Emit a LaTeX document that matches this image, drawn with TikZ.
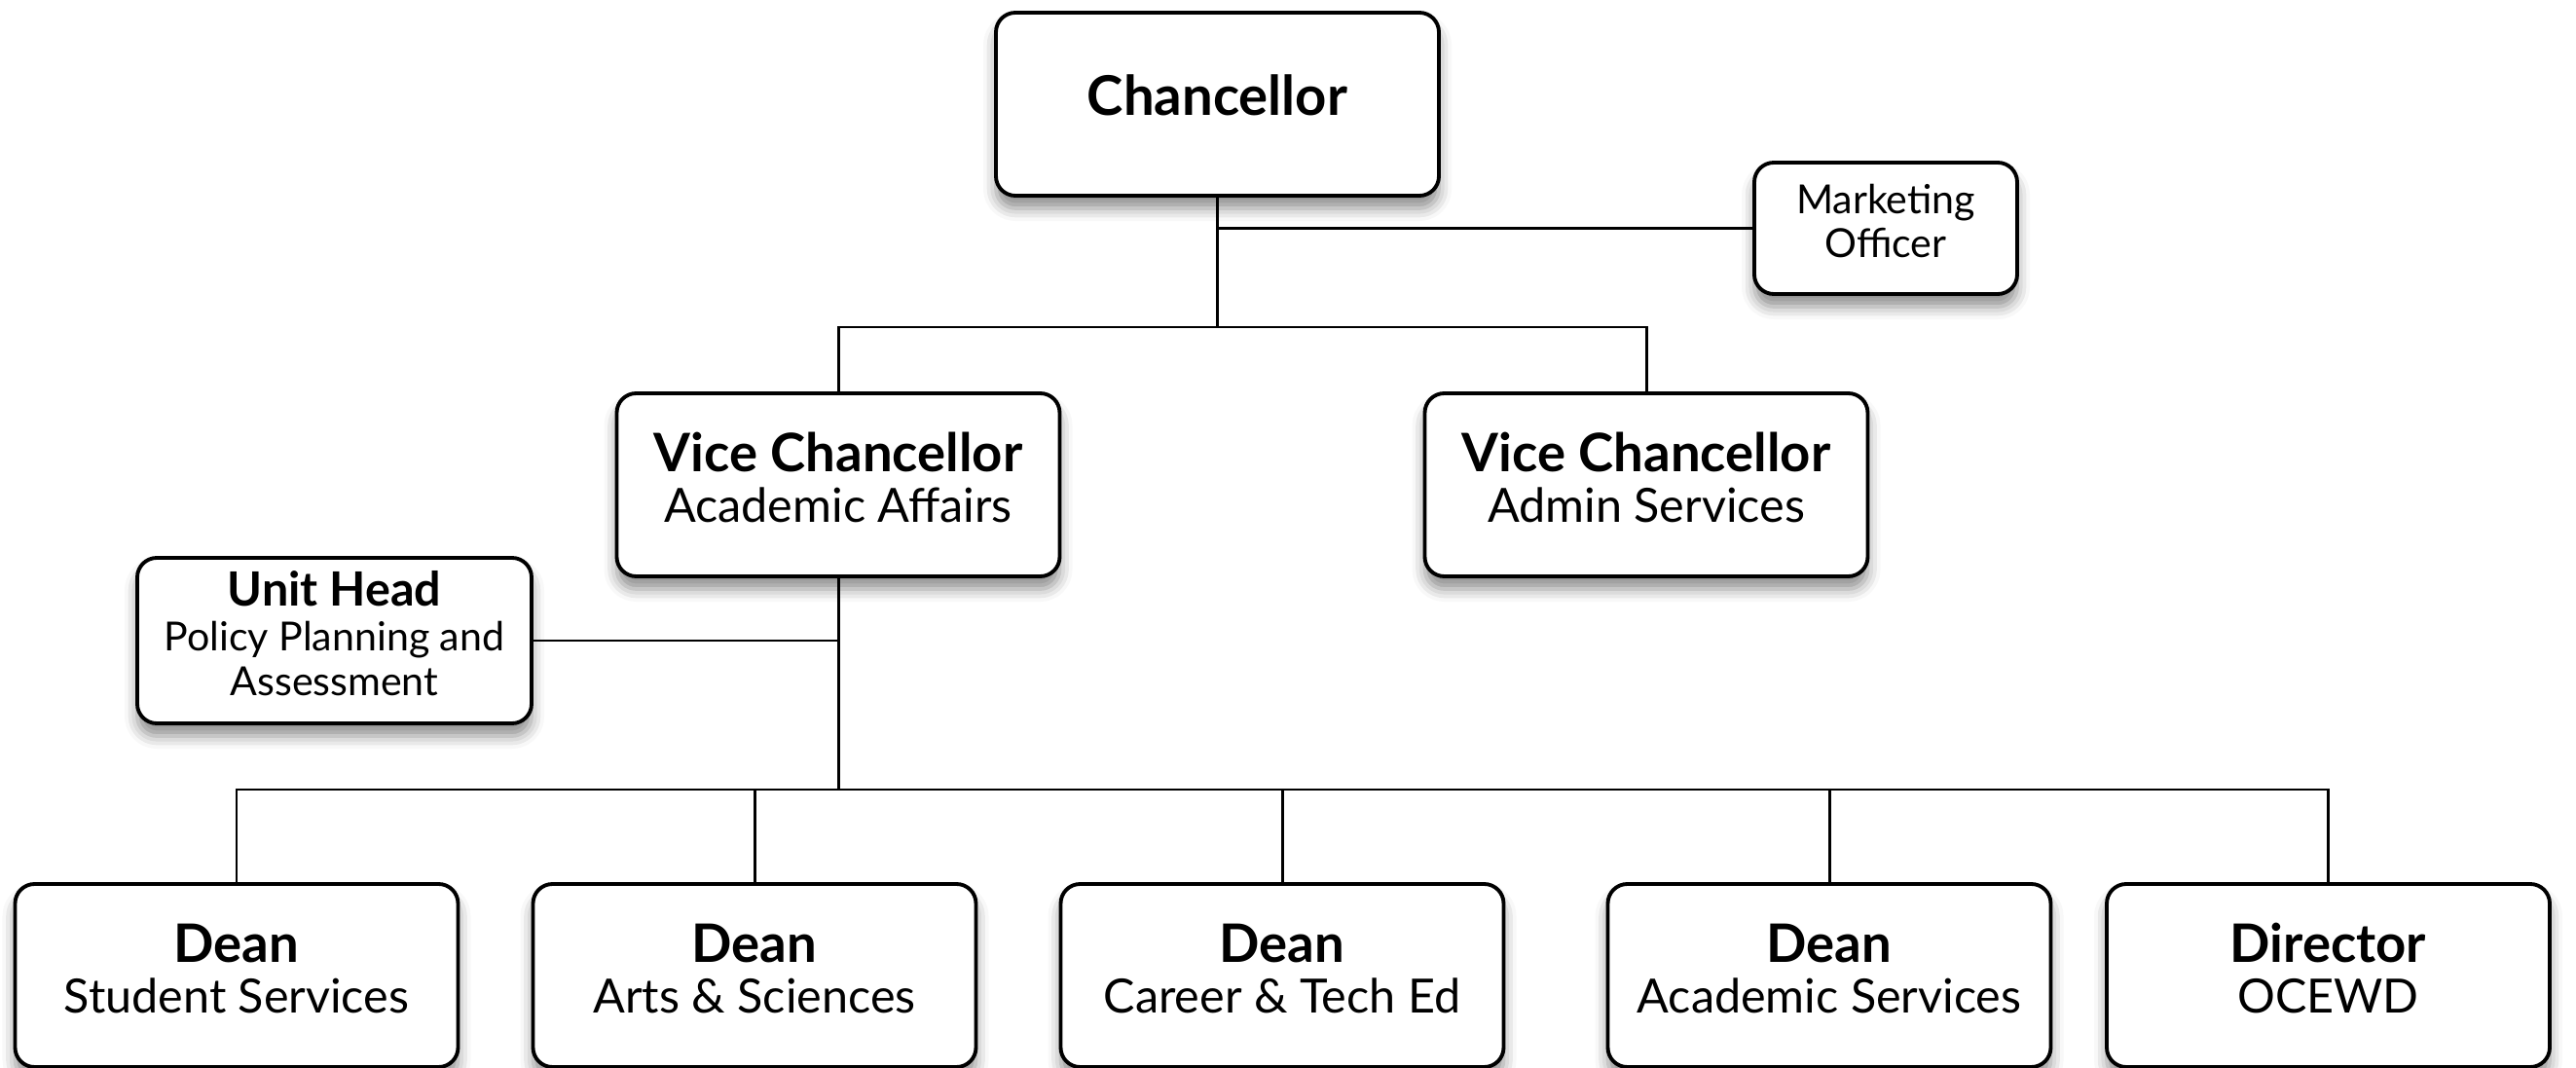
\documentclass[tikz,border=0pt]{standalone}
\usepackage{fontspec}
\setmainfont{Lato}
\usetikzlibrary{shadows.blur}

\newcommand{\headsize}{}
\newcommand{\post}[2]{{\bfseries\headsize #1}\\#2}

\begin{document}
\begin{tikzpicture}[line join=miter,
  box/.style={draw, line width=1.1pt, rounded corners=0.2cm, fill=white, align=center, inner sep=0pt,
    blur shadow={shadow xshift=0pt, shadow yshift=-0.13cm, shadow blur radius=0.13cm, shadow opacity=45}},
  big/.style={box, minimum width=4.55cm, minimum height=1.88cm, text depth=0.15cm,
    font=\fontsize{13.8}{14.8}\selectfont\renewcommand{\headsize}{\fontsize{15.5}{14.8}\selectfont}},
  small/.style={box, text depth=0.15cm,
    font=\fontsize{11.7}{13}\selectfont\renewcommand{\headsize}{\fontsize{13.8}{13}\selectfont}},
  link/.style={line width=0.85pt}]

  \useasboundingbox (0,0) rectangle (26.46,-10.97);

  \node[big, text depth=0.18cm] (chanc) at (12.505,-1.07) {\textbf{\fontsize{16}{16}\selectfont Chancellor}};
  \node[small, minimum width=2.70cm, minimum height=1.35cm] (mkt) at (19.37,-2.345) {Marketing\\Officer};
  \node[big] (vcaa) at (8.61,-4.98) {\post{Vice Chancellor}{Academic Affairs}};
  \node[big] (vcas) at (16.91,-4.98) {\post{Vice Chancellor}{Admin Services}};
  \node[small, minimum width=4.05cm, minimum height=1.70cm] (unit) at (3.435,-6.58)
    {\post{Unit Head}{Policy Planning and\\Assessment}};

  \node[big] (ds) at (2.43,-10.02) {\post{Dean}{Student Services}};
  \node[big] (das) at (7.75,-10.02) {\post{Dean}{Arts \& Sciences}};
  \node[big] (dct) at (13.17,-10.02) {\post{Dean}{Career \& Tech Ed}};
  \node[big] (dacs) at (18.79,-10.02) {\post{Dean}{Academic Services}};
  \node[big] (dir) at (23.915,-10.02) {\post{Director}{OCEWD}};

  % chancellor level
  \coordinate (split) at (chanc.south |- 0,-3.36);
  \draw[link] (chanc.south) -- (split);
  \draw[link] (chanc.south |- mkt.west) -- (mkt.west);
  \draw[link] (vcaa.north) |- (split) -| (vcas.north);

  % academic affairs
  \coordinate (hub) at (vcaa.south |- 0,-8.11);
  \draw[link] (vcaa.south) -- (hub);
  \draw[link] (unit.east) -- (unit.east -| vcaa.south);
  \foreach \d in {ds,das,dct,dacs,dir}
    \draw[link] (hub) -| (\d.north);

\end{tikzpicture}
\end{document}
